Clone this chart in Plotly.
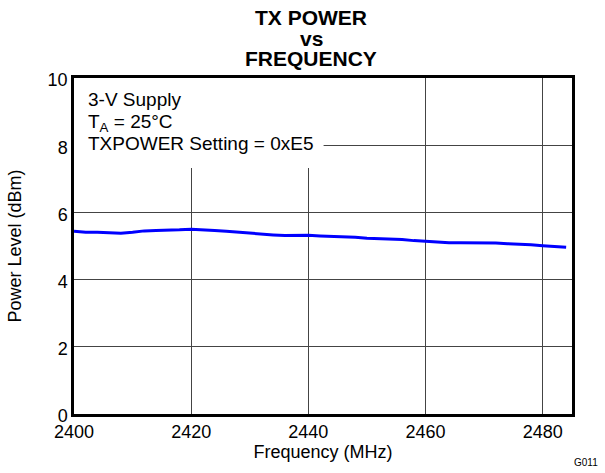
import plotly.graph_objects as go

freq_mhz = [2400, 2402, 2404, 2406, 2408, 2410, 2412, 2414, 2416, 2418, 2420,
            2422, 2424, 2426, 2428, 2430, 2432, 2434, 2436, 2438, 2440, 2442,
            2444, 2446, 2448, 2450, 2452, 2454, 2456, 2458, 2460, 2462, 2464,
            2466, 2468, 2470, 2472, 2474, 2476, 2478, 2480, 2482, 2484]
power_dbm = [5.44, 5.41, 5.41, 5.40, 5.38, 5.41, 5.45, 5.46, 5.46, 5.48, 5.50,
             5.49, 5.46, 5.44, 5.41, 5.37, 5.34, 5.33, 5.31, 5.32, 5.32, 5.30,
             5.29, 5.27, 5.26, 5.23, 5.22, 5.21, 5.19, 5.16, 5.14, 5.11, 5.10,
             5.10, 5.10, 5.10, 5.09, 5.07, 5.06, 5.04, 5.01, 4.99, 4.96]

x_ticks = [2400, 2420, 2440, 2460, 2480]
y_ticks = [0, 2, 4, 6, 8, 10]
x_range = [2400, 2485]
y_range = [0, 10]

title_lines = ["TX POWER", "vs", "FREQUENCY"]
condition_lines = ["3-V Supply", "T<sub>A</sub> = 25°C", "TXPOWER Setting = 0xE5"]

FONT = "Liberation Sans, Arial, sans-serif"

fig = go.Figure()
fig.add_trace(go.Scatter(x=freq_mhz, y=power_dbm, mode="lines",
                         line=dict(color="#0000ff", width=3), hoverinfo="skip"))

# white box behind the condition text (grid is interrupted there)
fig.add_shape(type="rect", xref="x", yref="y", x0=2400, x1=2442.6, y0=7.32, y1=10,
              fillcolor="white", line=dict(width=0), layer="between")

for txt, yv in zip(condition_lines, [9.375, 8.66, 8.036]):
    fig.add_annotation(xref="x", yref="y", x=2402.1, y=yv, xanchor="left", yanchor="middle",
                       text=txt, showarrow=False,
                       font=dict(size=19, family=FONT, color="black"))

for txt, yp in zip(title_lines, [1.1815, 1.119, 1.0595]):
    fig.add_annotation(xref="paper", yref="paper", x=0.476, y=yp, xanchor="center", yanchor="middle",
                       text="<b>" + txt + "</b>", showarrow=False,
                       font=dict(size=21, family=FONT, color="black"))

fig.add_annotation(xref="paper", yref="paper", x=1.056, y=-0.143, xanchor="right", yanchor="middle",
                   text="G011", showarrow=False, font=dict(size=10, family=FONT, color="black"))

fig.update_layout(
    width=605, height=473,
    margin=dict(l=74, r=33, t=78, b=59, autoexpand=False),
    paper_bgcolor="white", plot_bgcolor="white",
    showlegend=False,
    font=dict(family=FONT, color="black", size=18),
)
fig.update_xaxes(range=x_range, tickvals=x_ticks, ticks="", ticklen=0, showgrid=True,
                 gridcolor="#444444", gridwidth=1, zeroline=False,
                 showline=True, linecolor="black", linewidth=2.5, mirror=True,
                 title=dict(text="Frequency (MHz)", standoff=2, font=dict(size=18)),
                 tickfont=dict(size=18))
fig.update_yaxes(range=y_range, tickvals=y_ticks, ticks="", ticklen=0, showgrid=True,
                 gridcolor="#444444", gridwidth=1, zeroline=False,
                 showline=True, linecolor="black", linewidth=2.5, mirror=True,
                 ticklabelshift=2,
                 title=dict(text="Power Level (dBm)", standoff=22, font=dict(size=18)),
                 tickfont=dict(size=18))

fig.write_html("out.html", config={"displayModeBar": False},
               post_script="document.body.style.margin='0px';")
